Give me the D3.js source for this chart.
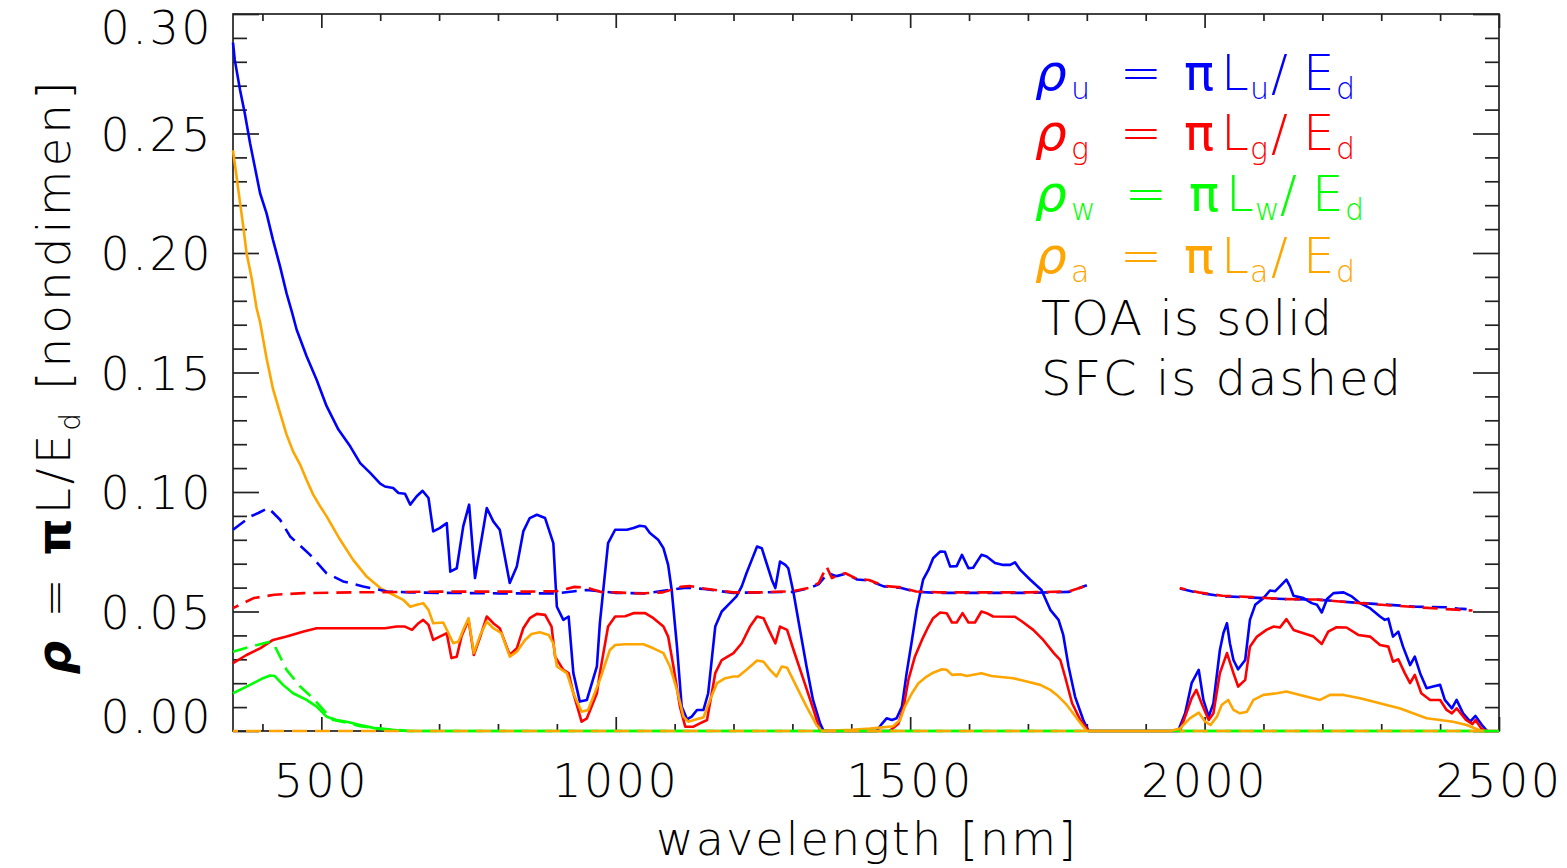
<!DOCTYPE html>
<html>
<head>
<meta charset="utf-8">
<script src="https://cdn.jsdelivr.net/npm/d3@7"></script>
<style>
  html, body { margin: 0; padding: 0; background: #fff; }
  svg { display: block; }
  text { font-family: "DejaVu Sans", "Liberation Sans", sans-serif; font-weight: 300; }
</style>
</head>
<body>
<svg id="chart" width="1567" height="868"></svg>
<script>
// Reflectance spectra rho = pi L / E_d, [wavelength nm, value]
// TOA (solid)
const toaU = [[350,0.288],[353,0.2808],[362,0.2682],[370,0.2585],[379,0.2459],[387,0.2361],[396,0.225],[407,0.2166],[418,0.2054],[430,0.1943],[441,0.1831],[450,0.1754],[458,0.168],[475,0.1568],[492,0.147],[509,0.1359],[529,0.1261],[549,0.1191],[566,0.1121],[583,0.108],[600,0.1035],[608,0.1023],[622,0.1017],[631,0.0996],[642,0.0993],[651,0.0947],[662,0.0982],[672,0.1005],[682,0.0975],[690,0.0835],[701,0.0849],[713,0.087],[719,0.0667],[730,0.0681],[741,0.0856],[751,0.0947],[761,0.064],[770,0.0772],[781,0.0933],[792,0.0877],[803,0.0842],[820,0.0619],[832,0.0688],[843,0.0835],[854,0.0891],[866,0.0905],[880,0.0891],[894,0.0786],[900,0.052],[911,0.0465],[920,0.0479],[928,0.0242],[939,0.0123],[951,0.013],[968,0.027],[973,0.045],[987,0.0786],[999,0.0842],[1019,0.0842],[1030,0.0849],[1041,0.0859],[1050,0.0856],[1058,0.0828],[1072,0.080],[1081,0.0765],[1089,0.0695],[1095,0.059],[1104,0.0353],[1112,0.0102],[1121,0.0049],[1129,0.006],[1138,0.0088],[1149,0.0088],[1157,0.0158],[1169,0.0437],[1180,0.05],[1194,0.0535],[1205,0.0563],[1214,0.0605],[1222,0.066],[1231,0.0716],[1240,0.0772],[1248,0.0765],[1256,0.0703],[1265,0.0633],[1271,0.0598],[1279,0.0709],[1288,0.0695],[1293,0.0681],[1302,0.0577],[1313,0.0423],[1324,0.027],[1335,0.013],[1347,0.0032],[1353,0],[1443,0],[1452,0.003],[1460,0.0053],[1469,0.0046],[1477,0.0053],[1486,0.0102],[1494,0.0242],[1503,0.038],[1511,0.0507],[1522,0.0633],[1531,0.0674],[1539,0.0723],[1551,0.0751],[1559,0.075],[1568,0.0688],[1579,0.069],[1588,0.0737],[1599,0.0681],[1607,0.0683],[1621,0.0737],[1630,0.073],[1644,0.0703],[1658,0.0695],[1670,0.0695],[1678,0.0706],[1687,0.0674],[1704,0.0633],[1723,0.059],[1738,0.0507],[1752,0.0465],[1760,0.0402],[1769,0.027],[1780,0.0144],[1794,0.0046],[1803,0],[1955,0],[1967,0.0074],[1978,0.02],[1990,0.0256],[1998,0.013],[2007,0.006],[2015,0.0116],[2026,0.0339],[2032,0.041],[2038,0.0451],[2043,0.0367],[2049,0.0297],[2057,0.0258],[2069,0.0297],[2077,0.0465],[2086,0.0528],[2100,0.0556],[2111,0.0588],[2120,0.0585],[2128,0.0605],[2139,0.0633],[2145,0.0605],[2151,0.0566],[2168,0.0556],[2182,0.0535],[2191,0.0528],[2199,0.0496],[2208,0.0552],[2219,0.0577],[2236,0.058],[2250,0.0563],[2264,0.0535],[2281,0.0514],[2298,0.0479],[2306,0.0465],[2312,0.047],[2320,0.0395],[2329,0.0416],[2337,0.0353],[2349,0.0276],[2357,0.0311],[2366,0.0242],[2377,0.0179],[2388,0.0186],[2400,0.0193],[2408,0.013],[2420,0.0095],[2428,0.013],[2439,0.0074],[2451,0.0039],[2460,0.0063],[2471,0.0025],[2480,0]];

const toaG = [[350,0.0284],[373,0.0318],[396,0.0346],[418,0.0381],[441,0.0395],[470,0.0416],[492,0.043],[526,0.043],[566,0.043],[608,0.043],[628,0.0437],[642,0.0437],[654,0.0423],[665,0.0451],[673,0.0465],[682,0.0444],[690,0.0381],[701,0.0395],[713,0.0409],[721,0.0305],[730,0.0311],[738,0.0395],[750,0.0465],[759,0.0318],[770,0.0395],[781,0.0479],[792,0.0451],[803,0.043],[820,0.0318],[832,0.0346],[843,0.043],[854,0.0472],[866,0.049],[880,0.0486],[891,0.0437],[897,0.0311],[911,0.0256],[920,0.0242],[928,0.0158],[942,0.0039],[951,0.0053],[968,0.0158],[973,0.0242],[987,0.0437],[999,0.0479],[1016,0.048],[1030,0.0493],[1050,0.0493],[1064,0.0472],[1081,0.0437],[1089,0.0395],[1098,0.027],[1109,0.0102],[1118,0.0018],[1132,0.0018],[1143,0.0032],[1155,0.0046],[1169,0.0242],[1180,0.0297],[1200,0.0326],[1214,0.0367],[1228,0.0437],[1240,0.0479],[1251,0.0472],[1260,0.0423],[1271,0.0367],[1279,0.0437],[1291,0.0423],[1302,0.0339],[1319,0.0214],[1336,0.0088],[1347,0],[1465,0],[1480,0.003],[1489,0.0102],[1497,0.0214],[1508,0.0311],[1520,0.0381],[1531,0.0437],[1539,0.0472],[1551,0.0496],[1562,0.0493],[1571,0.0454],[1579,0.0454],[1589,0.0493],[1599,0.0454],[1610,0.0454],[1621,0.05],[1630,0.0493],[1641,0.0479],[1678,0.0478],[1690,0.0458],[1709,0.0423],[1726,0.0381],[1744,0.0326],[1755,0.0297],[1763,0.0228],[1775,0.0116],[1789,0.0046],[1803,0],[1958,0],[1969,0.0074],[1978,0.0137],[1986,0.0172],[1996,0.0109],[2007,0.0046],[2015,0.0074],[2026,0.0242],[2038,0.0326],[2049,0.0242],[2057,0.0186],[2069,0.0214],[2077,0.0353],[2089,0.0395],[2105,0.0423],[2117,0.0437],[2128,0.0433],[2139,0.0468],[2151,0.0423],[2168,0.0409],[2185,0.0395],[2199,0.0364],[2210,0.0416],[2224,0.0434],[2241,0.0433],[2261,0.0402],[2281,0.0395],[2298,0.036],[2312,0.0353],[2320,0.029],[2329,0.03],[2340,0.0242],[2349,0.02],[2357,0.0235],[2368,0.0158],[2383,0.013],[2400,0.013],[2411,0.0088],[2420,0.0074],[2428,0.0095],[2444,0.0046],[2455,0.0029],[2460,0.0046],[2470,0.001],[2478,0],[2500,0]];

const toaW = [[350,0.0158],[379,0.0193],[401,0.0221],[413,0.0232],[421,0.023],[435,0.0193],[452,0.0158],[475,0.013],[492,0.0102],[509,0.006],[526,0.0046],[543,0.0039],[566,0.0025],[594,0.001],[645,0],[2500,0]];

const toaA = [[350,0.243],[356,0.232],[362,0.221],[368,0.21],[373,0.2],[382,0.189],[390,0.177],[396,0.171],[407,0.156],[418,0.143],[430,0.133],[441,0.124],[452,0.117],[464,0.1115],[475,0.105],[486,0.099],[498,0.094],[509,0.0898],[532,0.080],[554,0.0716],[577,0.0646],[600,0.0598],[622,0.057],[639,0.0549],[651,0.052],[662,0.0528],[673,0.0535],[682,0.0507],[690,0.0451],[707,0.0454],[716,0.0409],[724,0.0367],[733,0.0374],[741,0.0423],[750,0.0472],[759,0.0326],[770,0.0402],[781,0.0458],[792,0.043],[806,0.0409],[820,0.0311],[832,0.0332],[846,0.0381],[857,0.0406],[871,0.0413],[886,0.0402],[894,0.0367],[900,0.027],[917,0.0242],[928,0.0158],[942,0.0081],[953,0.0088],[973,0.0214],[990,0.0339],[999,0.036],[1016,0.0363],[1047,0.0363],[1064,0.0346],[1081,0.0326],[1092,0.027],[1104,0.0172],[1115,0.006],[1123,0.0039],[1137,0.0049],[1149,0.0057],[1160,0.013],[1172,0.02],[1186,0.0221],[1200,0.0228],[1208,0.0228],[1222,0.0256],[1240,0.0295],[1251,0.029],[1262,0.0256],[1273,0.0228],[1282,0.027],[1291,0.0265],[1307,0.0186],[1324,0.0102],[1341,0.0025],[1350,0],[1400,0.0005],[1432,0.001],[1471,0.002],[1483,0.0046],[1491,0.0102],[1503,0.0158],[1514,0.02],[1528,0.0228],[1539,0.0244],[1554,0.0258],[1562,0.0256],[1571,0.0235],[1585,0.0237],[1596,0.023],[1621,0.0242],[1638,0.023],[1675,0.0221],[1698,0.0207],[1721,0.0193],[1738,0.0172],[1749,0.0151],[1766,0.0109],[1783,0.0053],[1800,0],[1941,0],[1958,0.001],[1975,0.0053],[1990,0.0077],[2001,0.0039],[2010,0.0025],[2021,0.006],[2029,0.0109],[2040,0.013],[2049,0.0088],[2060,0.0074],[2072,0.0081],[2083,0.013],[2100,0.0151],[2123,0.0158],[2139,0.0165],[2162,0.0151],[2196,0.013],[2213,0.0151],[2236,0.0151],[2264,0.0137],[2286,0.0123],[2309,0.0109],[2331,0.0095],[2354,0.0074],[2377,0.0053],[2400,0.0046],[2422,0.0039],[2445,0.0025],[2470,0],[2480,0]];

// SFC (dashed); null marks the opaque band where no value is drawn
const sfcU = [[350,0.0842],[380,0.0898],[393,0.0912],[410,0.0933],[430,0.0884],[447,0.0814],[481,0.0737],[509,0.066],[537,0.0626],[571,0.0605],[611,0.0584],[650,0.058],[700,0.0578],[800,0.0576],[900,0.0576],[950,0.059],[1000,0.0578],[1050,0.0576],[1120,0.06],[1150,0.0594],[1200,0.0578],[1300,0.0582],[1330,0.0598],[1345,0.0615],[1360,0.066],[1375,0.0648],[1390,0.0658],[1410,0.0634],[1430,0.063],[1455,0.0605],[1485,0.0598],[1510,0.0582],[1550,0.0578],[1700,0.0578],[1770,0.0582],[1800,0.061],[1880,null],[1958,0.0596],[1990,0.0578],[2030,0.0564],[2080,0.0558],[2135,0.0552],[2190,0.055],[2250,0.0538],[2300,0.053],[2360,0.052],[2410,0.0518],[2430,0.0512],[2445,0.051]];

const sfcG = [[350,0.0514],[385,0.0556],[420,0.057],[470,0.0577],[550,0.058],[700,0.0583],[850,0.0583],[900,0.0585],[930,0.0603],[950,0.06],[975,0.0582],[1000,0.058],[1040,0.0575],[1080,0.058],[1110,0.0603],[1125,0.0607],[1150,0.0596],[1200,0.058],[1250,0.058],[1300,0.0585],[1330,0.06],[1345,0.062],[1358,0.0688],[1367,0.064],[1380,0.0655],[1390,0.066],[1410,0.0636],[1430,0.0632],[1455,0.0607],[1485,0.0601],[1510,0.0584],[1550,0.058],[1700,0.058],[1770,0.0584],[1790,0.06],[1800,0.0612],[1880,null],[1958,0.0598],[1990,0.058],[2030,0.0566],[2080,0.056],[2135,0.0552],[2190,0.055],[2250,0.0538],[2300,0.0528],[2360,0.0518],[2410,0.051],[2455,0.0504]];

const sfcW = [[350,0.0332],[380,0.0353],[413,0.0374],[420,0.036],[441,0.0256],[464,0.0186],[486,0.0137],[509,0.0074],[520,0.0046],[543,0.0035],[566,0.002],[600,0.001],[650,0],[1800,0],[1880,null],[1958,0],[2480,0]];

const sfcA = [[350,0],[1800,0],[1880,null],[1958,0],[2480,0]];

// Axis ticks and labels
const xMajor = [500, 1000, 1500, 2000, 2500];
const xMinor = d3.range(400, 2500, 100).filter(v => v % 500 !== 0);
const yMajor = [0, 0.05, 0.10, 0.15, 0.20, 0.25, 0.30];
const yMinor = d3.range(1, 30).filter(i => i % 5 !== 0).map(i => i / 100);
const yLabels = ["0.00", "0.05", "0.10", "0.15", "0.20", "0.25", "0.30"];

const colors = { u: "#0000ff", g: "#ff0000", w: "#00ff00", a: "#ffa500" };

(function draw() {
  const svg = d3.select("#chart");
  svg.append("rect").attr("width", 1567).attr("height", 868).attr("fill", "#fff");

  const pLeft = 233, pRight = 1499, pTop = 14, pBottom = 731;
  const x = d3.scaleLinear().domain([350, 2500]).range([pLeft, pRight]);
  const y = d3.scaleLinear().domain([0, 0.30]).range([pBottom, pTop]);

  // Frame with inward ticks on all four sides
  const axisColor = "#222";
  function styleAxis(g) {
    g.select(".domain").remove();
    g.selectAll(".tick line").attr("stroke", axisColor).attr("stroke-width", 1.7);
    g.selectAll(".tick text").remove();
  }
  const ax = svg.append("g");
  ax.append("g").attr("transform", `translate(0,${pBottom})`).call(d3.axisBottom(x).tickValues(xMajor).tickSize(-14)).call(styleAxis);
  ax.append("g").attr("transform", `translate(0,${pBottom})`).call(d3.axisBottom(x).tickValues(xMinor).tickSize(-7)).call(styleAxis);
  ax.append("g").attr("transform", `translate(0,${pTop})`).call(d3.axisTop(x).tickValues(xMajor).tickSize(-14)).call(styleAxis);
  ax.append("g").attr("transform", `translate(0,${pTop})`).call(d3.axisTop(x).tickValues(xMinor).tickSize(-7)).call(styleAxis);
  ax.append("g").attr("transform", `translate(${pLeft},0)`).call(d3.axisLeft(y).tickValues(yMajor).tickSize(-26)).call(styleAxis);
  ax.append("g").attr("transform", `translate(${pLeft},0)`).call(d3.axisLeft(y).tickValues(yMinor).tickSize(-14)).call(styleAxis);
  ax.append("g").attr("transform", `translate(${pRight},0)`).call(d3.axisRight(y).tickValues(yMajor).tickSize(-26)).call(styleAxis);
  ax.append("g").attr("transform", `translate(${pRight},0)`).call(d3.axisRight(y).tickValues(yMinor).tickSize(-14)).call(styleAxis);
  ax.append("rect").attr("x", pLeft).attr("y", pTop).attr("width", pRight - pLeft).attr("height", pBottom - pTop)
    .attr("fill", "none").attr("stroke", axisColor).attr("stroke-width", 1.7);

  // Tick labels
  svg.append("g").selectAll("text").data(xMajor).join("text")
    .attr("x", d => x(d)).attr("y", 797).attr("text-anchor", "middle")
    .attr("font-size", 46).attr("letter-spacing", 2.5).attr("fill", "#000").text(d => d);
  svg.append("g").selectAll("text").data(yMajor).join("text")
    .attr("x", 213).attr("y", d => Math.min(733, Math.max(44, y(d) + 17)))
    .attr("text-anchor", "end").attr("font-size", 46).attr("letter-spacing", 2.5).attr("fill", "#000")
    .text((d, i) => yLabels[i]);

  // Axis titles
  svg.append("text").attr("x", (pLeft + pRight) / 2).attr("y", 855).attr("text-anchor", "middle")
    .attr("font-size", 46).attr("fill", "#000").attr("textLength", 420).attr("lengthAdjust", "spacing")
    .text("wavelength [nm]");

  const yt = svg.append("text").attr("transform", `translate(70,376) rotate(-90)`)
    .attr("text-anchor", "middle").attr("font-size", 47).attr("letter-spacing", 4).attr("fill", "#000");
  yt.append("tspan").attr("font-weight", "bold").attr("font-style", "italic").text("ρ");
  yt.append("tspan").text(" = ");
  yt.append("tspan").attr("font-weight", "bold").text("π");
  yt.append("tspan").text("L/E");
  yt.append("tspan").attr("font-size", 28).attr("dy", 10).text("d");
  yt.append("tspan").attr("dy", -10).text(" [nondimen]");

  // Spectra
  const line = d3.line().defined(d => d[1] !== null).x(d => x(d[0])).y(d => y(d[1]));
  const plot = svg.append("g").attr("fill", "none").attr("stroke-width", 2.6).attr("stroke-linejoin", "round");
  [[toaU, "u"], [toaG, "g"], [toaW, "w"], [toaA, "a"]].forEach(([data, k]) => {
    plot.append("path").attr("d", line(data)).attr("stroke", colors[k]);
  });
  [[sfcU, "u", 0], [sfcG, "g", 9], [sfcW, "w", 0], [sfcA, "a", 10]].forEach(([data, k, off]) => {
    plot.append("path").attr("d", line(data)).attr("stroke", colors[k])
      .attr("stroke-dasharray", "15,8").attr("stroke-dashoffset", off);
  });

  // Legend: each row is rho_k = pi L_k / E_d in the series colour
  const legendRows = [["u", 90, 0, 0], ["g", 150, 0, 0], ["w", 211, 5, 4], ["a", 273, 0, 0]];
  legendRows.forEach(([k, by, s, w]) => {
    const t = svg.append("text").attr("y", by).attr("font-size", 50).attr("fill", colors[k]);
    t.append("tspan").attr("x", 1035).attr("font-weight", "normal").attr("font-style", "italic").text("ρ");
    t.append("tspan").attr("x", 1071).attr("font-size", 30).attr("dy", 9).text(k);
    t.append("tspan").attr("x", 1120 + s).attr("dy", -9).text("=");
    t.append("tspan").attr("x", 1184 + s).attr("font-weight", "normal").text("π");
    t.append("tspan").attr("x", 1221 + s).text("L");
    t.append("tspan").attr("x", 1250 + s).attr("font-size", 30).attr("dy", 9).text(k);
    t.append("tspan").attr("x", 1271 + s + w).attr("dy", -9).text("/");
    t.append("tspan").attr("x", 1303 + s + w).text("E");
    t.append("tspan").attr("x", 1336 + s + w).attr("font-size", 30).attr("dy", 9).text("d");
  });
  const legendNotes = [["TOA is solid", 335, 291], ["SFC is dashed", 395, 360]];
  legendNotes.forEach(([s, by, w]) => {
    svg.append("text").attr("x", 1041).attr("y", by).attr("font-size", 48).attr("fill", "#000")
      .attr("textLength", w).attr("lengthAdjust", "spacing").text(s);
  });
})();
</script>
</body>
</html>
